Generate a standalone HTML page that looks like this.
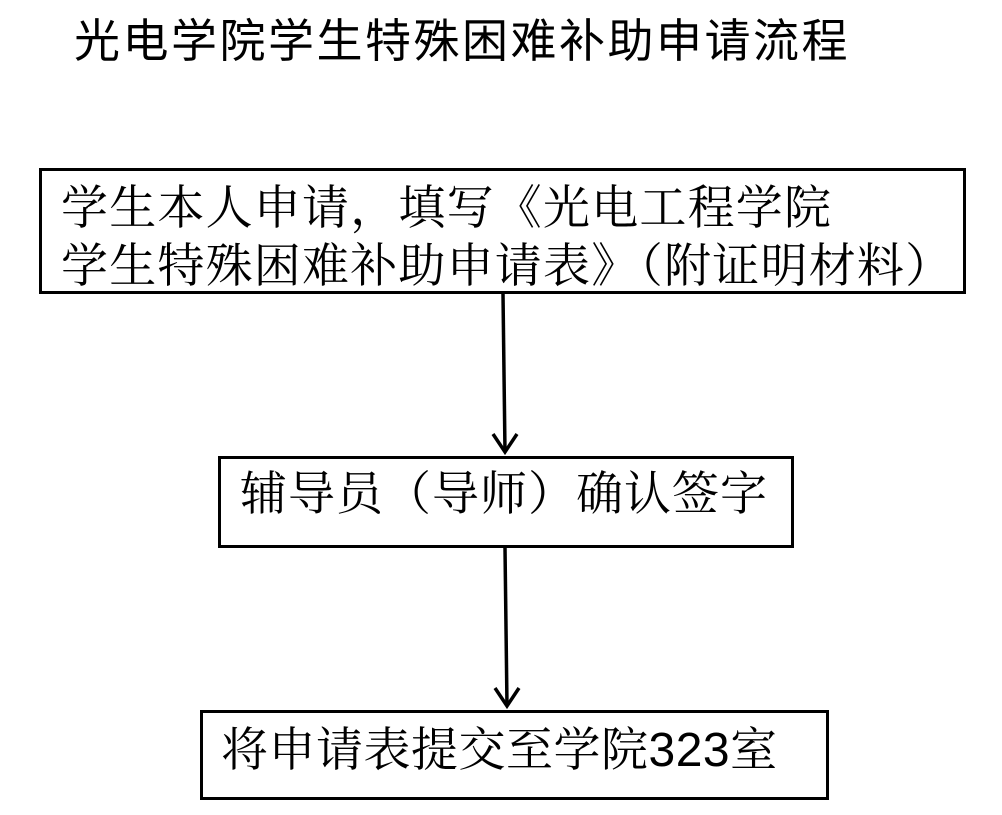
<!DOCTYPE html>
<html><head><meta charset="utf-8"><style>
body{margin:0;width:1002px;height:815px;background:#fff;position:relative;overflow:hidden}
.t{position:absolute;white-space:nowrap;color:#000}
.b{position:absolute;border:3px solid #000;box-sizing:border-box}
.serif{font-family:"Noto Serif CJK SC","Noto Sans CJK SC",serif}
.sans{font-family:"Noto Sans CJK SC","WenQuanYi Zen Hei",sans-serif}
.num{font-family:"Liberation Sans",sans-serif}
</style></head><body>
<div class="t sans" style="left:74px;top:10px;font-size:46px;line-height:56px;letter-spacing:2.5px">光电学院学生特殊困难补助申请流程</div>
<div class="b" style="left:39px;top:168px;width:927px;height:126px"></div>
<div class="t serif" style="left:61px;top:176px;font-size:47px;line-height:58px;letter-spacing:1.2px">学生本人申请，填写《光电工程学院<br>学生特殊困难补助申请表》（附证明材料）</div>
<div class="b" style="left:218px;top:456px;width:576px;height:92px"></div>
<div class="t serif" style="left:240px;top:462px;font-size:47px;line-height:58px;letter-spacing:1px">辅导员（导师）确认签字</div>
<div class="b" style="left:200px;top:710px;width:629px;height:90px"></div>
<div class="t serif" style="left:221px;top:718px;font-size:47px;line-height:58px;letter-spacing:0.5px">将申请表提交至学院<span class="num" style="font-size:48px">323</span>室</div>
<svg width="1002" height="815" style="position:absolute;left:0;top:0">
<g stroke="#000" stroke-width="3.5" fill="none">
<line x1="503" y1="294" x2="505" y2="452"/>
<polyline points="493,434 505,452 517,434"/>
<line x1="505" y1="548" x2="507" y2="706"/>
<polyline points="495,688 507,706 519,688"/>
</g></svg>
</body></html>
